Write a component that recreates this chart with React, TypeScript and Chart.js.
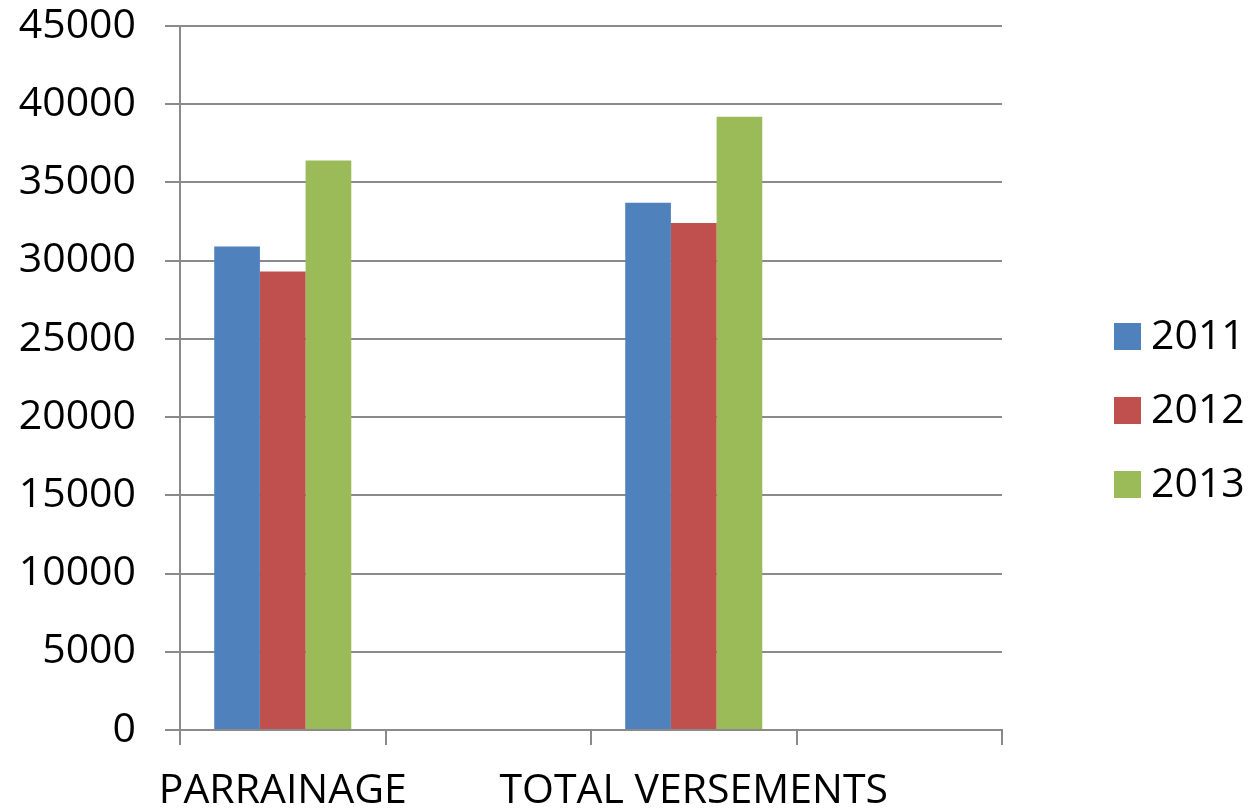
import React, { useEffect, useRef } from "react";
import { Chart, registerables } from "chart.js";

Chart.register(...registerables);

const categories = ["PARRAINAGE", "", "TOTAL VERSEMENTS", ""];
const seriesNames = ["2011", "2012", "2013"];
const values2011 = [30900, null, 33700, null];
const values2012 = [29300, null, 32400, null];
const values2013 = [36400, null, 39200, null];
const seriesColors = ["#4F81BD", "#C0504D", "#9BBB59"];
const yTicks = { min: 0, max: 45000, step: 5000 };

const FONT = "'Open Sans', 'Liberation Sans', sans-serif";
const GRID = "#8a8a8a";

const legendPlugin = {
  id: "rightLegend",
  afterDraw(chart: any) {
    const ctx = chart.ctx;
    ctx.save();
    ctx.font = `41px ${FONT}`;
    ctx.textBaseline = "middle";
    ctx.textAlign = "left";
    chart.data.datasets.forEach((ds: any, i: number) => {
      const cy = 336.5 + i * 74;
      ctx.fillStyle = ds.backgroundColor;
      ctx.fillRect(1114, cy - 13.5, 27, 27);
      ctx.fillStyle = "#000";
      ctx.fillText(ds.label, 1151, cy + 1);
    });
    ctx.restore();
  },
};

export default function App() {
  const ref = useRef<HTMLCanvasElement | null>(null);
  useEffect(() => {
    if (!ref.current) return;
    const datasets = [values2011, values2012, values2013].map((d, i) => ({
      label: seriesNames[i],
      data: d,
      backgroundColor: seriesColors[i],
      borderWidth: 0,
      barPercentage: 1,
      categoryPercentage: 0.667,
    }));
    const chart = new Chart(ref.current, {
      type: "bar",
      data: { labels: categories, datasets },
      plugins: [legendPlugin],
      options: {
        animation: false,
        responsive: false,
        devicePixelRatio: 1,
        layout: { padding: { top: 26, right: 252, left: 0, bottom: 0 } },
        plugins: { legend: { display: false }, tooltip: { enabled: false } },
        scales: {
          x: {
            offset: true,
            grid: {
              display: true,
              offset: true,
              drawOnChartArea: false,
              drawTicks: true,
              tickLength: 15,
              color: GRID,
              lineWidth: 2,
            },
            border: { display: true, color: GRID, width: 2 },
            ticks: {
              autoSkip: false,
              maxRotation: 0,
              minRotation: 0,
              padding: 22,
              color: "#000",
              font: { family: FONT, size: 41 },
            },
            afterFit(scale: any) {
              scale.height = 82;
              scale.paddingLeft = 0;
              scale.paddingRight = 0;
            },
          },
          y: {
            min: yTicks.min,
            max: yTicks.max,
            ticks: {
              stepSize: yTicks.step,
              padding: 29,
              color: "#000",
              font: { family: FONT, size: 41 },
              callback: (v: any) => String(v),
            },
            grid: {
              color: GRID,
              lineWidth: 2,
              tickLength: 15,
              drawTicks: true,
            },
            border: { display: true, color: GRID, width: 2 },
            afterFit(scale: any) {
              scale.width = 180;
              scale.paddingTop = 0;
              scale.paddingBottom = 0;
            },
          },
        },
      },
    });
    return () => chart.destroy();
  }, []);
  return (
    <div style={{ position: "absolute", left: 0, top: 0, width: 1254, height: 812, background: "#fff" }}>
      <canvas ref={ref} width={1254} height={812} style={{ width: 1254, height: 812 }} />
    </div>
  );
}
